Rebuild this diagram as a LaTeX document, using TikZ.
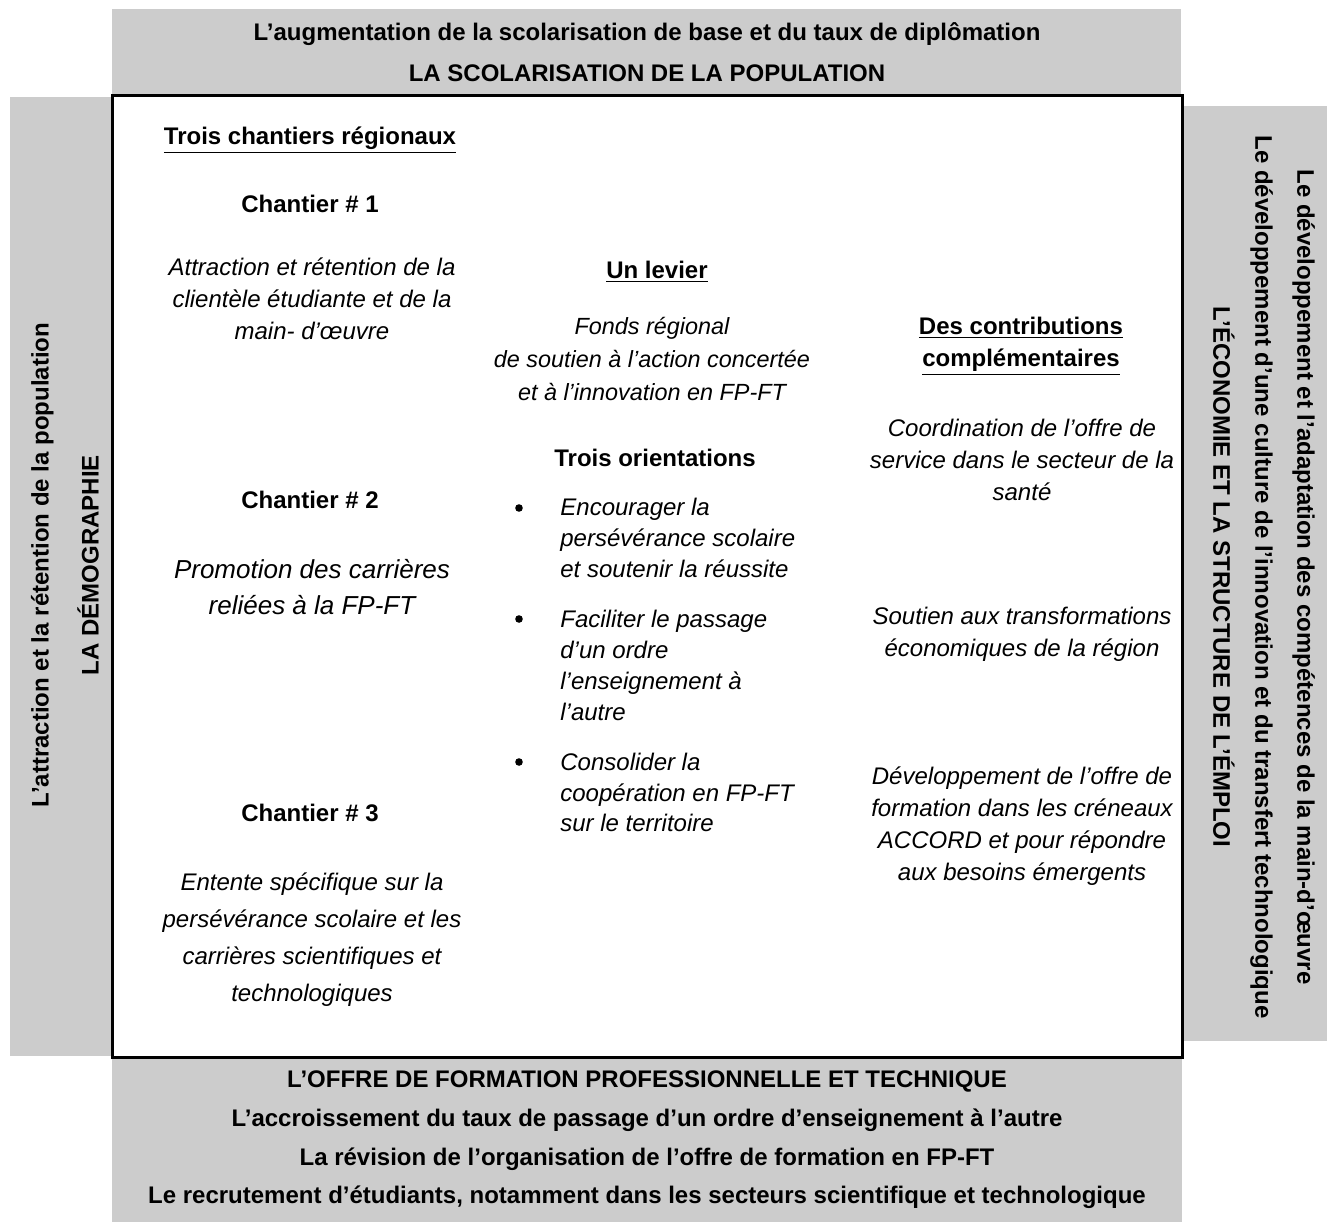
\documentclass[tikz,border=0pt]{standalone}
\usepackage{fontspec}
\setmainfont{Liberation Sans}
\usepackage{xcolor}
\usepackage{tikz}
\definecolor{bandgray}{RGB}{204,204,204}

\begin{document}
\begin{tikzpicture}[x=0.5pt,y=-0.5pt,
        bandtext/.style={font=\fontsize{12}{20.5}\selectfont\bfseries,align=center,inner sep=0pt},
        head/.style={font=\fontsize{12}{16}\selectfont\bfseries,align=center,inner sep=0pt},
        body/.style={font=\fontsize{12}{16}\selectfont\itshape,align=center,inner sep=0pt},
        item/.style={font=\fontsize{12}{15.4}\selectfont\itshape,align=left,anchor=west,inner sep=0pt},
        dot/.style={circle,fill,inner sep=0pt,minimum size=3.8pt}]
        \useasboundingbox (0,0) rectangle (1330,1222);

        % the four bands
        \fill[bandgray] (112,9) rectangle (1181,94);
        \fill[bandgray] (10,97) rectangle (111,1056);
        \fill[bandgray] (1183,106) rectangle (1327,1041);
        \fill[bandgray] (112,1058) rectangle (1182,1222);
        \draw[line width=1.5pt] (112,95) rectangle (1182,1057);

        \node[bandtext] (haut) at (647,52) {L’augmentation de la scolarisation de base et du taux de diplômation\\LA SCOLARISATION DE LA POPULATION};
        \node[bandtext,rotate=90,font=\fontsize{12}{25}\selectfont\bfseries] (gauche) at (65,565) {L’attraction et la rétention de la population\\LA DÉMOGRAPHIE};
        \node[bandtext,rotate=-90,font=\fontsize{12}{21}\selectfont\bfseries] (droite) at (1264,577) {Le développement et l’adaptation des compétences de la main-d’œuvre\\Le développement d’une culture de l’innovation et du transfert technologique\\L’ÉCONOMIE ET LA STRUCTURE DE L’ÉMPLOI};
        \node[bandtext,font=\fontsize{12}{19.3}\selectfont\bfseries] (bas) at (647,1140) {L’OFFRE DE FORMATION PROFESSIONNELLE ET TECHNIQUE\\L’accroissement du taux de passage d’un ordre d’enseignement à l’autre\\La révision de l’organisation de l’offre de formation en FP-FT\\Le recrutement d’étudiants, notamment dans les secteurs scientifique et technologique};

        % left column
        \node[head] (chantiers) at (310,140) {\underline{Trois chantiers régionaux}};
        \node[head] (ch1) at (310,204) {Chantier \# 1};
        \node[body] (ch1txt) at (312,299) {Attraction et rétention de la\\clientèle étudiante et de la\\main- d’œuvre};
        \node[head] (ch2) at (310,500) {Chantier \# 2};
        \node[body,font=\fontsize{13}{18}\selectfont\itshape] (ch2txt) at (312,587) {Promotion des carrières\\reliées à la FP-FT};
        \node[head] (ch3) at (310,813) {Chantier \# 3};
        \node[body,font=\fontsize{12}{18.5}\selectfont\itshape] (ch3txt) at (312,940) {Entente spécifique sur la\\persévérance scolaire et les\\carrières scientifiques et\\technologiques};

        % middle column
        \node[head] (levier) at (657,272) {\underline{Un levier}};
        \node[body,font=\fontsize{11.7}{16.5}\selectfont\itshape] (fonds) at (652,359) {Fonds régional\\de soutien à l’action concertée\\et à l’innovation en FP-FT};
        \node[head] (orient) at (655,458) {Trois orientations};
        \node[dot] (d1) at (519,508) {};
        \node[dot] (d2) at (519,619) {};
        \node[dot] (d3) at (519,762) {};
        \node[item] (o1) at (560,538) {Encourager la\\persévérance scolaire\\et soutenir la réussite};
        \node[item] (o2) at (560,665.5) {Faciliter le passage\\d’un ordre\\l’enseignement à\\l’autre};
        \node[item] (o3) at (560,792.5) {Consolider la\\coopération en FP-FT\\sur le territoire};

        % right column
        \node[head] (contrib) at (1021,346) {\underline{Des contributions}\\\underline{complémentaires}};
        \node[body] (coord) at (1022,460) {Coordination de l’offre de\\service dans le secteur de la\\santé};
        \node[body] (soutien) at (1022,634) {Soutien aux transformations\\économiques de la région};
        \node[body] (devel) at (1022,826) {Développement de l’offre de\\formation dans les créneaux\\ACCORD et pour répondre\\aux besoins émergents};
\end{tikzpicture}
\end{document}
